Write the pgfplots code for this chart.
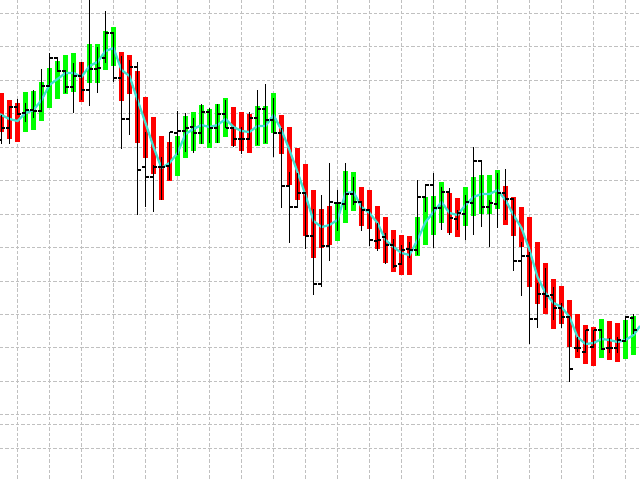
\documentclass[border=0pt]{standalone}
\usepackage{pgfplots}
\usepackage{pgfplotstable}
\pgfplotsset{compat=1.18}
\definecolor{maline}{HTML}{40E0D0}
\definecolor{gridc}{HTML}{C0C0C0}
\definecolor{bred}{HTML}{FF0000}
\definecolor{bgreen}{HTML}{00FF00}

\pgfplotstableread{
x t b
1.5 93 132
9.5 100 139
17.5 103 142
81.5 62 102
121.5 52 101
129.5 55 94
137.5 71 143
145.5 97 158
153.5 117 174
161.5 136 200
169.5 142 181
233.5 107 146
241.5 112 151
249.5 114 153
281.5 115 154
289.5 127 185
297.5 148 200
305.5 164 236
313.5 190 258
321.5 209 248
329.5 206 245
361.5 187 226
369.5 190 229
377.5 206 249
385.5 217 263
393.5 230 272
401.5 235 275
409.5 236 275
449.5 193 233
457.5 198 237
505.5 186 225
513.5 197 236
521.5 207 247
529.5 217 287
537.5 242 304
545.5 263 314
553.5 279 329
561.5 286 324
569.5 300 347
577.5 314 358
585.5 325 364
593.5 327 366
609.5 321 360
617.5 323 362
}\redbars

\pgfplotstableread{
x t b
25.5 92 132
33.5 91 130
41.5 82 121
49.5 68 108
57.5 61 99
65.5 55 94
73.5 53 92
89.5 44 83
97.5 44 83
105.5 31 70
113.5 27 66
177.5 136 176
185.5 116 158
193.5 112 151
201.5 105 144
209.5 109 148
217.5 104 143
225.5 98 137
257.5 106 146
265.5 106 144
273.5 93 133
337.5 203 241
345.5 171 223
353.5 172 211
417.5 217 256
425.5 197 245
433.5 196 235
441.5 182 223
465.5 187 226
473.5 177 216
481.5 175 214
489.5 175 214
497.5 170 209
601.5 319 358
625.5 320 359
633.5 316 355
}\greenbars

\pgfplotstableread{
x h l o c
1.5 115 144 140 128
9.5 106 144 128 107
17.5 99 115 107 114
25.5 103 122 113 110
33.5 90 118 110 111
41.5 69 112 111 86
49.5 53 86 86 58
57.5 58 72 58 71
65.5 70 93 71 87
73.5 63 113 87 76
81.5 62 100 76 90
89.5 0 106 90 69
97.5 47 93 69 68
105.5 11 63 58 33
113.5 33 82 33 78
121.5 56 149 78 119
129.5 60 135 119 67
137.5 62 215 67 170
145.5 132 207 167 177
153.5 165 212 177 167
161.5 157 200 167 167
169.5 132 180 166 132
177.5 111 155 133 131
185.5 113 152 131 128
193.5 118 153 127 133
201.5 104 144 133 112
209.5 108 143 112 128
217.5 104 143 128 114
225.5 100 128 114 128
233.5 127 147 128 139
241.5 127 154 139 139
249.5 112 140 139 118
257.5 90 145 118 109
265.5 84 143 109 120
273.5 98 157 120 133
281.5 128 208 133 186
289.5 172 243 186 207
297.5 173 207 207 193
305.5 192 249 193 236
313.5 209 295 236 284
321.5 195 287 284 246
329.5 163 261 246 202
337.5 190 231 203 203
345.5 163 210 204 194
353.5 177 205 194 202
361.5 203 231 202 210
369.5 210 246 210 240
377.5 223 251 241 240
385.5 233 264 237 245
393.5 239 268 245 266
401.5 245 264 264 250
409.5 242 258 249 250
417.5 180 255 250 197
425.5 184 212 197 185
433.5 173 248 185 208
441.5 187 230 208 192
449.5 188 235 192 218
457.5 210 230 219 213
465.5 195 240 214 202
473.5 147 235 203 161
481.5 161 227 161 207
489.5 200 247 207 203
497.5 173 228 204 193
505.5 169 220 193 199
513.5 199 271 199 261
521.5 242 296 261 256
529.5 252 344 256 319
537.5 283 328 319 294
545.5 268 308 294 296
553.5 287 320 295 308
561.5 303 328 308 317
569.5 317 382 317 369
577.5 337 352 348 348
585.5 330 353 352 330
593.5 330 347 347 330
601.5 330 350 330 349
609.5 338 353 348 348
617.5 337 353 348 340
625.5 316 342 341 317
633.5 314 334 318 330
}\ohlc

\pgfplotstableread{
x m
0 114
1.5 115
9.5 119
17.5 121
25.5 113
33.5 110
41.5 100
49.5 85
57.5 79
65.5 73
73.5 73
81.5 77
89.5 66
97.5 62
105.5 51
113.5 48
121.5 70
129.5 76
137.5 100
145.5 123
153.5 147
161.5 168
169.5 163
177.5 153
185.5 134
193.5 129
201.5 125
209.5 127
217.5 125
225.5 119
233.5 127
241.5 131
249.5 132
257.5 126
265.5 126
273.5 115
281.5 130
289.5 150
297.5 172
305.5 195
313.5 221
321.5 227
329.5 225
337.5 220
345.5 193
353.5 192
361.5 207
369.5 213
377.5 223
385.5 240
393.5 247
401.5 253
409.5 255
417.5 240
425.5 222
433.5 212
441.5 202
449.5 213
457.5 215
465.5 205
473.5 197
481.5 194
489.5 194
497.5 190
505.5 200
513.5 215
521.5 228
529.5 250
537.5 277
545.5 293
553.5 303
561.5 307
569.5 317
577.5 337
585.5 344
593.5 343
601.5 339
609.5 340
617.5 342
625.5 340
633.5 335
640 326
}\ma

\pgfplotsset{
  errbase/.style={only marks, mark=*, mark options={opacity=0, scale=0.01}},
}

\begin{document}
\begin{tikzpicture}
\begin{axis}[
  width=16cm, height=12cm, scale only axis,
  xmin=0, xmax=640, ymin=0, ymax=480, y dir=reverse,
  axis line style={draw=none},
  xtick={17,49,...,625},
  ytick={13.3,46.8,80.3,113.7,147.2,180.6,214.1,247.5,281,314.4,347.9,381.3,414.8,448.2},
  extra y ticks={424},
  extra y tick style={grid style={solid, gridc, line width=0.71pt}},
  grid=major,
  major grid style={gridc, line width=0.71pt, dash pattern=on 2.4pt off 1.4pt},
  major tick length=0pt,
  xticklabels={}, yticklabels={}, extra y tick labels={},
  tick label style={opacity=0, inner sep=0pt, font=\tiny},
]
% bodies
\addplot[errbase, error bars/.cd, y dir=plus, y explicit, error mark=none,
  error bar style={bred, opacity=1, line width=3pt}]
  table[x=x, y=t, y error plus expr=\thisrow{b}-\thisrow{t}, y error minus expr=0] {\redbars};
\addplot[errbase, error bars/.cd, y dir=plus, y explicit, error mark=none,
  error bar style={bgreen, opacity=1, line width=3pt}]
  table[x=x, y=t, y error plus expr=\thisrow{b}-\thisrow{t}, y error minus expr=0] {\greenbars};
% moving average
\addplot[maline, line width=1.6pt, mark=none] table[x=x, y=m] {\ma};
% wicks
\addplot[errbase, error bars/.cd, y dir=plus, y explicit, error mark=none,
  error bar style={black, opacity=1, line width=0.75pt}]
  table[x=x, y=h, y error plus expr=\thisrow{l}-\thisrow{h}, y error minus expr=0] {\ohlc};
% open ticks
\addplot[errbase, error bars/.cd, x dir=minus, x fixed=3.5, error mark=none,
  error bar style={black, opacity=1, line width=0.75pt}]
  table[x=x, y=o] {\ohlc};
% close ticks
\addplot[errbase, error bars/.cd, x dir=plus, x fixed=3.5, error mark=none,
  error bar style={black, opacity=1, line width=0.75pt}]
  table[x=x, y=c] {\ohlc};
\end{axis}
\pgfresetboundingbox
\path[use as bounding box] (current axis.south west) rectangle (current axis.north east);
\end{tikzpicture}
\end{document}
